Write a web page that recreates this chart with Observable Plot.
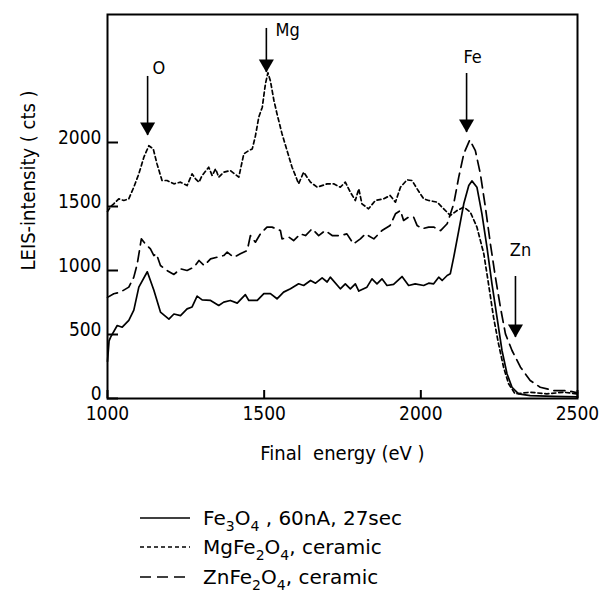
<!DOCTYPE html>
<html><head><meta charset="utf-8">
<script src="https://cdn.jsdelivr.net/npm/d3@7"></script>
<script src="https://cdn.jsdelivr.net/npm/@observablehq/plot@0.6"></script>
<style>
body{margin:0;background:#fff;font-family:"DejaVu Sans",sans-serif;color:#000;}
#legend{margin-top:33px;}
.row{display:flex;align-items:center;height:29.5px;font-size:20px;font-family:"DejaVu Sans",sans-serif;}
.row svg{margin-left:140px;margin-right:13px;}
sub{font-size:14px;vertical-align:-6px;line-height:0;}
</style></head><body><div id="chart"></div><div id="legend"></div>
<script>
// ---- data ----
const xTicks = [1000, 1500, 2000, 2500];
const yTicks = [0, 500, 1000, 1500, 2000];

const energyFe3O4 = [1000,1005,1010,1031,1047,1068,1084,1100,1127,1148,1169,1196,1212,1233,1254,1270,1286,1302,1329,1355,1371,1392,1414,1440,1451,1478,1499,1520,1541,1562,1584,1610,1626,1648,1664,1685,1701,1711,1743,1759,1775,1791,1802,1828,1844,1860,1876,1892,1913,1940,1961,1982,2009,2025,2041,2057,2068,2084,2094,2105,2121,2137,2153,2163,2179,2195,2211,2227,2243,2259,2275,2291,2312,2349,2424,2500];
const countsFe3O4 = [290,450,480,570,557,610,690,870,990,845,675,620,660,648,700,715,800,770,766,727,753,766,745,812,766,766,820,820,779,831,857,896,883,922,901,943,910,948,857,896,857,896,839,870,935,896,935,883,891,953,883,896,883,901,896,948,922,961,974,1104,1312,1521,1664,1700,1651,1443,1182,896,635,375,193,88,36,23,16,12];

const energyMgFe2O4 = [1000,1010,1020,1036,1052,1068,1084,1100,1116,1132,1146,1158,1174,1190,1212,1233,1254,1270,1281,1292,1302,1323,1334,1345,1355,1371,1392,1419,1435,1451,1462,1472,1483,1494,1504,1512,1520,1531,1541,1557,1573,1589,1600,1610,1626,1648,1669,1701,1722,1743,1759,1775,1791,1802,1812,1833,1855,1881,1902,1919,1935,1956,1972,1988,2009,2025,2052,2073,2094,2116,2137,2158,2179,2201,2216,2232,2248,2264,2280,2301,2349,2402,2456,2500];
const countsMgFe2O4 = [1460,1500,1521,1560,1547,1560,1651,1755,1885,1975,1950,1833,1703,1703,1677,1690,1664,1755,1716,1690,1742,1807,1742,1794,1729,1768,1781,1729,1911,1937,1950,2050,2200,2276,2458,2545,2480,2330,2224,2068,1937,1807,1740,1677,1768,1690,1651,1677,1677,1651,1690,1612,1547,1638,1521,1482,1547,1560,1586,1534,1651,1708,1703,1638,1560,1547,1534,1482,1430,1469,1495,1456,1339,1130,896,635,427,245,115,36,49,36,49,36];

const energyZnFe2O4 = [1000,1020,1041,1068,1084,1095,1108,1121,1137,1148,1156,1169,1190,1212,1233,1254,1276,1292,1308,1329,1350,1371,1382,1403,1424,1446,1456,1472,1488,1509,1525,1552,1557,1579,1594,1616,1632,1653,1674,1695,1717,1743,1764,1785,1807,1823,1850,1876,1902,1919,1935,1945,1961,1977,1988,2004,2025,2041,2063,2084,2105,2121,2137,2156,2174,2190,2206,2222,2238,2254,2270,2291,2318,2349,2381,2424,2466,2500];
const countsZnFe2O4 = [790,818,831,870,948,1052,1247,1208,1169,1117,1130,1039,1000,969,1013,1000,1026,1078,1039,1091,1104,1117,1143,1104,1130,1156,1273,1221,1286,1339,1339,1312,1247,1260,1234,1286,1273,1326,1273,1312,1273,1273,1286,1208,1247,1286,1247,1312,1352,1443,1469,1391,1417,1417,1352,1326,1339,1339,1312,1365,1521,1729,1911,2020,1937,1755,1495,1208,948,713,505,375,245,141,88,62,62,45];

// peak annotations (arrow stem top, arrow tip, label position) in data units
const peakNames = ["O", "Mg", "Fe", "Zn"];
const peakEnergy = [1128, 1507, 2146, 2302];
const arrowTop = [2516, 2891, 2539, 953];
const arrowTip = [2055, 2547, 2078, 477];
const labelEnergy = [1144, 1536, 2165, 2318];
const labelCounts = [2578, 2875, 2664, 1156];
const labelAnchors = ["start", "start", "middle", "middle"];

const xLabel = "Final\u00a0 energy (eV )";
const yLabel = "LEIS-intensity ( cts )";

// ---- build tables ----
const toRows = (e, c) => e.map((x, i) => ({e: x, c: c[i]}));
const fe = toRows(energyFe3O4, countsFe3O4);
const mg = toRows(energyMgFe2O4, countsMgFe2O4);
const zn = toRows(energyZnFe2O4, countsZnFe2O4);
const peaks = peakNames.map((n, i) => ({n, e: peakEnergy[i], top: arrowTop[i], tip: arrowTip[i], le: labelEnergy[i], lc: labelCounts[i], a: labelAnchors[i]}));

const W = 601, H = 470, ML = 107, MR = 24, MT = 14, MB = 72;
const normal = '"DejaVu Sans", sans-serif';
const condensed = '"DejaVu Sans Condensed", "DejaVu Sans", sans-serif';
const plot = Plot.plot({
  width: W, height: H,
  marginLeft: ML, marginRight: MR, marginTop: MT, marginBottom: MB,
  style: {fontFamily: condensed, fontStretch: "condensed", fontSize: "19px", color: "#000", background: "#fff"},
  x: {domain: [1000, 2500]},
  y: {domain: [0, 3000]},
  marks: [
    Plot.axisX({ticks: xTicks, tickFormat: d => String(d), tickSize: 0, tickPadding: 8, label: null}),
    Plot.axisY({ticks: yTicks, tickFormat: d => String(d), tickSize: 0, tickPadding: 6, dy: -5, label: null}),
    // inward ticks
    Plot.tickX(xTicks, {x: d => d, stroke: "#000", strokeWidth: 2, insetTop: (H - MT - MB) - 8}),
    Plot.tickY(yTicks, {y: d => d, stroke: "#000", strokeWidth: 2, insetRight: (W - ML - MR) - 11}),
    Plot.text([xLabel], {frameAnchor: "bottom", dy: 55, fontSize: 20, fontFamily: normal, fontStretch: "normal", lineAnchor: "middle"}),
    Plot.text([yLabel], {frameAnchor: "left", y: () => (yTicks[0] + yTicks[yTicks.length - 1]) / 2, dx: -79, rotate: -90, fontSize: 20, fontFamily: normal, fontStretch: "normal", lineAnchor: "middle"}),
    Plot.line(fe, {x: "e", y: "c", stroke: "#000", strokeWidth: 1.7}),
    Plot.line(mg, {x: "e", y: "c", stroke: "#000", strokeWidth: 1.7, strokeDasharray: "4,3"}),
    Plot.line(zn, {x: "e", y: "c", stroke: "#000", strokeWidth: 1.7, strokeDasharray: "11,6"}),
    Plot.ruleX(peaks, {x: "e", y1: "top", y2: "tip", stroke: "#000", strokeWidth: 1.6}),
    Plot.dot(peaks, {x: "e", y: "tip", symbol: "triangle", r: 5.6, rotate: 180, fill: "#000", stroke: null, dy: -8.7}),
    Plot.text(peaks.filter(p => p.a === "start"), {x: "le", y: "lc", text: "n", textAnchor: "start", fontSize: 18, fontFamily: normal, fontStretch: "normal", lineAnchor: "middle"}),
    Plot.text(peaks.filter(p => p.a === "middle"), {x: "le", y: "lc", text: "n", textAnchor: "middle", fontSize: 18, fontFamily: normal, fontStretch: "normal", lineAnchor: "middle"}),
    Plot.frame({stroke: "#000", strokeWidth: 2})
  ]
});
document.getElementById("chart").append(plot);

// ---- legend (HTML below the chart) ----
const legendItems = [
  {dash: null, html: "Fe<sub>3</sub>O<sub>4</sub> , 60nA, 27sec"},
  {dash: "4,3", html: "MgFe<sub>2</sub>O<sub>4</sub>, ceramic"},
  {dash: "11,6", html: "ZnFe<sub>2</sub>O<sub>4</sub>, ceramic"}
];
const legend = document.getElementById("legend");
for (const it of legendItems) {
  const row = document.createElement("div");
  row.className = "row";
  row.innerHTML = `<svg width="50" height="6"><line x1="0" y1="3" x2="50" y2="3" stroke="#000" stroke-width="1.7" ${it.dash ? `stroke-dasharray="${it.dash}"` : ""}/></svg><span>${it.html}</span>`;
  legend.append(row);
}
</script></body></html>
